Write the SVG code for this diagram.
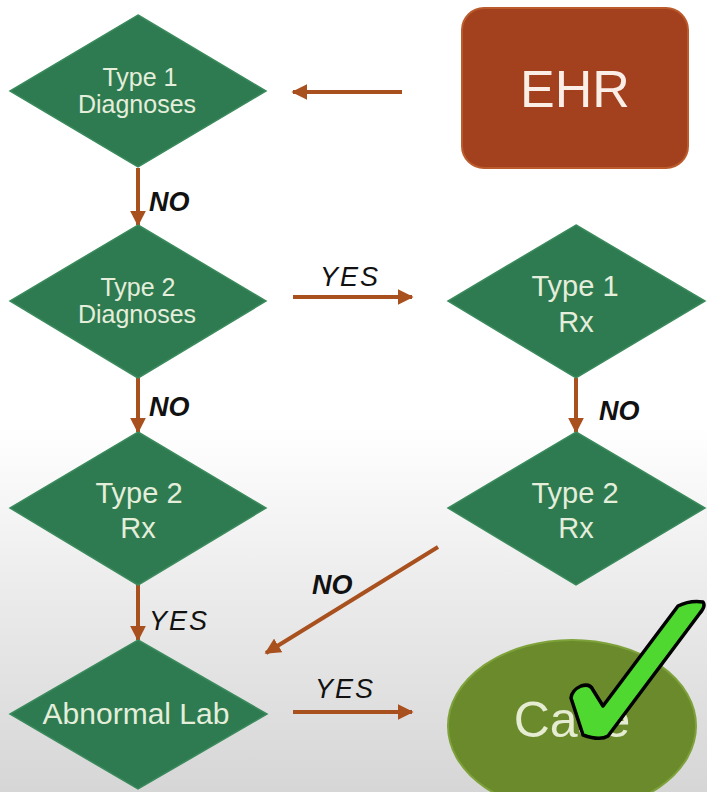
<svg xmlns="http://www.w3.org/2000/svg" width="707" height="792" viewBox="0 0 707 792">
  <defs>
    <linearGradient id="bg" x1="0" y1="0" x2="0" y2="1">
      <stop offset="0" stop-color="#ffffff"/>
      <stop offset="0.54" stop-color="#ffffff"/>
      <stop offset="0.75" stop-color="#ebebeb"/>
      <stop offset="1" stop-color="#d6d6d6"/>
    </linearGradient>
    <marker id="head" viewBox="0 0 10 10" refX="9" refY="5" markerWidth="4" markerHeight="4" orient="auto" markerUnits="strokeWidth">
      <path d="M0,0 L10,5 L0,10 Z" fill="#a9501f"/>
    </marker>
    <style>
      .dia { fill: #2f7b51; stroke: #3a8a5c; stroke-width: 1.5; }
      .dtxt { font-family: "Liberation Sans", Arial, sans-serif; fill: #e4eedb; text-anchor: middle; }
      .sm { font-size: 25px; }
      .lg { font-size: 29px; }
      .conn line { stroke: #a9501f; stroke-width: 4; marker-end: url(#head); }
      .lbl { font-family: "Liberation Sans", Arial, sans-serif; font-style: italic; fill: #111111; font-size: 27px; }
      .no { font-weight: bold; }
      .yes { letter-spacing: 2px; }
    </style>
  </defs>

  <rect width="707" height="792" fill="url(#bg)"/>

  <!-- connectors -->
  <g id="connectors" class="conn">
    <line x1="402" y1="92" x2="293" y2="92"/>
    <line x1="138" y1="168" x2="138" y2="225"/>
    <line x1="293" y1="297" x2="412" y2="297"/>
    <line x1="138" y1="378" x2="138" y2="432"/>
    <line x1="576" y1="378" x2="576" y2="432"/>
    <line x1="138" y1="585" x2="138" y2="640"/>
    <line x1="438" y1="547" x2="266" y2="653"/>
    <line x1="293" y1="712" x2="412" y2="712"/>
  </g>

  <!-- edge labels -->
  <g id="labels">
    <text class="lbl no" x="149" y="211">NO</text>
    <text class="lbl yes" x="320" y="286">YES</text>
    <text class="lbl no" x="149" y="416">NO</text>
    <text class="lbl no" x="599" y="420">NO</text>
    <text class="lbl no" x="312" y="594">NO</text>
    <text class="lbl yes" x="149" y="630">YES</text>
    <text class="lbl yes" x="315" y="698">YES</text>
  </g>

  <g id="ehr">
    <rect x="462" y="8" width="226" height="160" rx="22" fill="#a3401d" stroke="#bb5a2c" stroke-width="2"/>
    <text x="575" y="107" font-family="Liberation Sans, Arial, sans-serif" font-size="52" fill="#fbeee6" text-anchor="middle">EHR</text>
  </g>

  <g id="type1-diagnoses">
    <polygon class="dia" points="138,15 266,91 138,167 10,91"/>
    <text class="dtxt sm" x="140" y="86">Type 1</text>
    <text class="dtxt sm" x="137" y="113">Diagnoses</text>
  </g>

  <g id="type2-diagnoses">
    <polygon class="dia" points="138,225 266,301 138,378 10,301"/>
    <text class="dtxt sm" x="138" y="296">Type 2</text>
    <text class="dtxt sm" x="137" y="323">Diagnoses</text>
  </g>

  <g id="type2-rx-left">
    <polygon class="dia" points="138,432 266,508 138,585 10,508"/>
    <text class="dtxt lg" x="139" y="503">Type 2</text>
    <text class="dtxt lg" x="138" y="538">Rx</text>
  </g>

  <g id="abnormal-lab">
    <polygon class="dia" points="138,640 267,714 138,789 10,714"/>
    <text class="dtxt" x="136" y="724" font-size="30">Abnormal Lab</text>
  </g>

  <g id="type1-rx">
    <polygon class="dia" points="576,225 705,301 576,378 448,301"/>
    <text class="dtxt lg" x="575" y="296">Type 1</text>
    <text class="dtxt lg" x="576" y="332">Rx</text>
  </g>

  <g id="type2-rx-right">
    <polygon class="dia" points="576,432 705,508 576,585 448,508"/>
    <text class="dtxt lg" x="575" y="503">Type 2</text>
    <text class="dtxt lg" x="576" y="538">Rx</text>
  </g>

  <g id="case">
    <ellipse cx="572" cy="726" rx="124" ry="86" fill="#6b8a2c" stroke="#7ea23a" stroke-width="2"/>
    <text x="572" y="737" font-family="Liberation Sans, Arial, sans-serif" font-size="50" fill="#e6ecd2" text-anchor="middle">Case</text>
  </g>

  <!-- check mark over the case node -->
  <g id="check">
    <path d="M678,606 Q690,600 703,602 Q706,606 700,613 L608,736 Q600,741 583,735 L571,698 Q572,690 581,686 Q590,683 593,690 L603,706 Z" fill="#4fd82f" stroke="#000000" stroke-width="3.5" stroke-linejoin="round"/>
  </g>
</svg>
